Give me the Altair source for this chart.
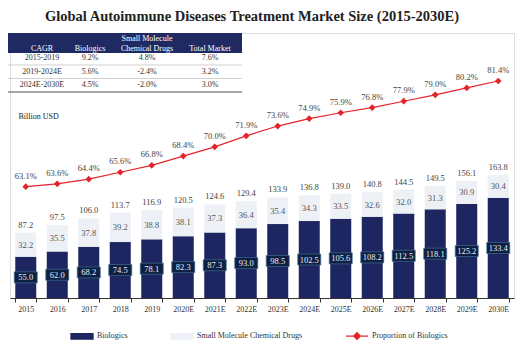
import altair as alt
import pandas as pd

# ---------------- data ----------------
years = ["2015", "2016", "2017", "2018", "2019", "2020E", "2021E", "2022E",
         "2023E", "2024E", "2025E", "2026E", "2027E", "2028E", "2029E", "2030E"]
biologics = [55.0, 62.0, 68.2, 74.5, 78.1, 82.3, 87.3, 93.0,
             98.5, 102.5, 105.6, 108.2, 112.5, 118.1, 125.2, 133.4]
small_molecule = [32.2, 35.5, 37.8, 39.2, 38.8, 38.1, 37.3, 36.4,
                  35.4, 34.3, 33.5, 32.6, 32.0, 31.3, 30.9, 30.4]
totals = [87.2, 97.5, 106.0, 113.7, 116.9, 120.5, 124.6, 129.4,
          133.9, 136.8, 139.0, 140.8, 144.5, 149.5, 156.1, 163.8]
proportion = [63.1, 63.6, 64.4, 65.6, 66.8, 68.4, 70.0, 71.9,
              73.6, 74.9, 75.9, 76.8, 77.9, 79.0, 80.2, 81.4]

series_names = ["Biologics", "Small Molecule Chemical Drugs", "Proportion of Biologics"]

cagr_periods = ["2015-2019", "2019-2024E", "2024E-2030E"]
cagr_biologics = ["9.2%", "5.6%", "4.5%"]
cagr_small = ["4.8%", "-2.4%", "-2.0%"]
cagr_total = ["7.6%", "3.2%", "3.0%"]
table_headers = ["CAGR", "Biologics", "Small Molecule\nChemical Drugs", "Total Market"]

title_text = "Global Autoimmune Diseases Treatment Market Size (2015-2030E)"
unit_text = "Billion USD"

# ---------------- style ----------------
FONT = "Liberation Serif"
NAVY = "#1d2660"
LIGHT = "#edf1f5"
RED = "#e3242b"
BOX_FILL = "#0d2044"
BOX_STROKE = "#3f6d8c"

W, H = 504, 265

bar_df = pd.DataFrame({
    "year": years * 2,
    "series": [series_names[0]] * len(years) + [series_names[1]] * len(years),
    "value": biologics + small_molecule,
    "order": [0] * len(years) + [1] * len(years),
})
wide_df = pd.DataFrame({
    "year": years, "bio": biologics, "small": small_molecule,
    "total": totals, "pct": proportion,
})
table_df = pd.DataFrame({
    "period": cagr_periods, "bio": cagr_biologics,
    "small": cagr_small, "total": cagr_total,
})
header_df = pd.DataFrame({"h0": [table_headers[0]], "h1": [table_headers[1]],
                          "h2": [table_headers[2]], "h3": [table_headers[3]]})

color_scale = alt.Scale(domain=series_names, range=[NAVY, LIGHT, RED])

x_enc = alt.X("year:N", sort=years,
              scale=alt.Scale(paddingInner=0.333, paddingOuter=0.167),
              axis=alt.Axis(title=None, labelAngle=0, labelFont=FONT, labelFontSize=8,
                            labelColor="#333", tickBand="extent", tickSize=4,
                            tickColor="#333", domainColor="#333", labelPadding=3,
                            grid=False))

y_scale = alt.Scale(domain=[0, 353], nice=False, zero=True)
y_axis = alt.Axis(labels=False, ticks=False, domain=False, grid=False,
                  title=unit_text, titleAngle=0, titleAlign="left",
                  titleBaseline="middle", titleX=8, titleY=83, titleFont=FONT,
                  titleFontSize=8, titleFontWeight="normal", titleColor="#222")

rect_path = "M-1,-0.25H1V0.25H-1Z"
line_path = "M-1,0H1M0,-0.3L0.3,0L0,0.3L-0.3,0Z"
is_line = "datum.value === 'Proportion of Biologics'"

legend = alt.Legend(
    title=None, orient="none", legendX=60, legendY=291, direction="horizontal",
    columnPadding=40, symbolSize=484, labelFont=FONT, labelFontSize=8,
    labelColor="#333", labelOffset=3,
    symbolType={"expr": f"{is_line} ? '{line_path}' : '{rect_path}'"},
    symbolStrokeColor={"expr": f"{is_line} ? '{RED}' : 'transparent'"},
    symbolStrokeWidth=1.3,
)

bars = alt.Chart(bar_df).mark_bar().encode(
    x=x_enc,
    y=alt.Y("value:Q", stack="zero", scale=y_scale, axis=y_axis),
    color=alt.Color("series:N", scale=color_scale, legend=legend),
    order=alt.Order("order:Q"),
)

box_path = "M-1,-0.48H1V0.48H-1Z"
boxes = alt.Chart(wide_df).transform_calculate(bio_mid="datum.bio / 2").mark_point(
    shape=box_path, size=529, filled=True, fill=BOX_FILL, stroke=BOX_STROKE,
    strokeWidth=0.7, opacity=1,
).encode(x=x_enc, y=alt.Y("bio_mid:Q", scale=y_scale, axis=y_axis))

bio_text = alt.Chart(wide_df).transform_calculate(bio_mid="datum.bio / 2").mark_text(
    font=FONT, fontSize=8.5, color="#e8eef5", baseline="middle",
).encode(x=x_enc, y=alt.Y("bio_mid:Q", scale=y_scale, axis=y_axis),
         text=alt.Text("bio:Q", format=".1f"))

small_text = alt.Chart(wide_df).transform_calculate(
    small_mid="datum.bio + datum.small / 2").mark_text(
    font=FONT, fontSize=8.5, color="#555", baseline="middle",
).encode(x=x_enc, y=alt.Y("small_mid:Q", scale=y_scale, axis=y_axis),
         text=alt.Text("small:Q", format=".1f"))

total_text = alt.Chart(wide_df).mark_text(
    font=FONT, fontSize=8.5, color="#444", baseline="middle", dy=-8,
).encode(x=x_enc, y=alt.Y("total:Q", scale=y_scale, axis=y_axis),
         text=alt.Text("total:Q", format=".1f"))

bar_group = alt.layer(bars, boxes, bio_text, small_text, total_text)

p_scale = alt.Scale(domain=[43.83, 89.71], nice=False, zero=False)
line = alt.Chart(wide_df).transform_calculate(
    series="'Proportion of Biologics'").mark_line(strokeWidth=1.2).encode(
    x=x_enc, y=alt.Y("pct:Q", scale=p_scale, axis=None),
    color=alt.Color("series:N", scale=color_scale, legend=None),
)
points = alt.Chart(wide_df).mark_point(
    shape="diamond", filled=True, size=45, opacity=1, color=RED,
).encode(x=x_enc, y=alt.Y("pct:Q", scale=p_scale, axis=None))
pct_text = alt.Chart(wide_df).transform_calculate(
    lab="format(datum.pct, '.1f') + '%'").mark_text(
    font=FONT, fontSize=8.5, color="#444", baseline="middle", dy=-11,
).encode(x=x_enc, y=alt.Y("pct:Q", scale=p_scale, axis=None), text="lab:N")

line_group = alt.layer(line, points, pct_text)

main = alt.layer(bar_group, line_group).resolve_scale(y="independent")

# ---------------- CAGR table ----------------
col_x = [32, 80, 137, 200]
header_first_baseline = [18, 18, 8, 18]
row_y = alt.Y("period:N", sort=cagr_periods,
              scale=alt.Scale(type="point", domain=cagr_periods, range=[25, 52], padding=0),
              axis=None)

header_bg = alt.Chart(header_df).mark_rect(color="#1f2a62").encode(
    x=alt.value(-2), x2=alt.value(232), y=alt.value(0), y2=alt.value(20))

table_layers = [header_bg]
for i, col in enumerate(["h0", "h1", "h2", "h3"]):
    table_layers.append(
        alt.Chart(header_df).mark_text(
            font=FONT, fontSize=8, color="white", baseline="alphabetic",
            lineBreak="\n", lineHeight=10,
        ).encode(x=alt.value(col_x[i]), y=alt.value(header_first_baseline[i]),
                 text=f"{col}:N"))

for i, col in enumerate(["period", "bio", "small", "total"]):
    table_layers.append(
        alt.Chart(table_df).mark_text(
            font=FONT, fontSize=8, color="#333", baseline="middle",
        ).encode(x=alt.value(col_x[i]), y=row_y, text=f"{col}:N"))

rules = alt.Chart(table_df).mark_rule().encode(
    x=alt.value(-2), x2=alt.value(232), y=row_y, yOffset=alt.value(7),
    strokeWidth=alt.condition(alt.datum.period == cagr_periods[-1], alt.value(1.5), alt.value(0.7)),
    color=alt.condition(alt.datum.period == cagr_periods[-1], alt.value("#888"), alt.value("#bbb")),
)
table_layers.append(rules)
table = alt.layer(*table_layers)

chart = alt.layer(main, table).resolve_scale(y="independent").properties(
    width=W, height=H,
    autosize=alt.AutoSizeParams(type="none"),
    padding={"left": 10, "top": 33, "right": 12, "bottom": 52},
    title=alt.Title(title_text, font=FONT, fontSize=14.5, fontWeight="bold",
                    color="#222", anchor="middle", offset=9, dx=-10),
).configure_view(stroke=None).configure(background="white")

chart.save("out.html", embed_options={"renderer": "svg", "actions": False})
